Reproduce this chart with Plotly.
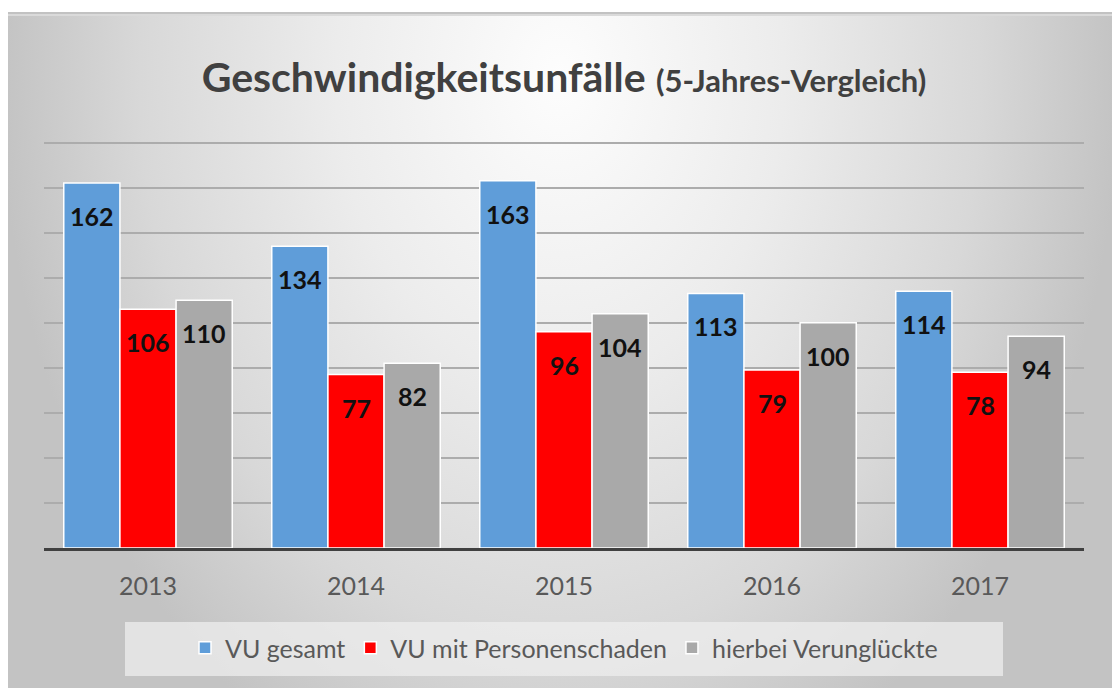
import base64
import plotly.graph_objects as go

# ---------------- data ----------------
years = ["2013", "2014", "2015", "2016", "2017"]
vu_gesamt = [162, 134, 163, 113, 114]
vu_personenschaden = [106, 77, 96, 79, 78]
verunglueckte = [110, 82, 104, 100, 94]
series_names = ["VU gesamt", "VU mit Personenschaden", "hierbei Verunglückte"]
title_main = "Geschwindigkeitsunfälle"
title_sub = "(5-Jahres-Vergleich)"

# ---------------- layout constants ----------------
W, H = 1112, 688
ML, MR, MT, MB = 44, 28, 138, 140
plot_w = W - ML - MR
plot_h = H - MT - MB
Y_MAX = 182
BARGAP = 0.19
FONT = "Lato, 'Open Sans', sans-serif"
colors = ["#5F9DD9", "#FF0000", "#A9A9A9"]

xpos = list(range(len(years)))  # category slots for the years


def px_x(px):
    return (px - ML) / plot_w


def px_y(py):
    return (H - MB - py) / plot_h


# radial background gradient as an SVG image
panel_x0, panel_y0 = 8, 12
pw, ph = W - panel_x0, H - panel_y0
cx, cy = pw / 2, 65
svg = f'''<svg xmlns="http://www.w3.org/2000/svg" width="{pw}" height="{ph}" viewBox="0 0 {pw} {ph}" preserveAspectRatio="none">
<defs><radialGradient id="g" gradientUnits="userSpaceOnUse" cx="{cx}" cy="{cy}" r="560"
gradientTransform="translate({cx},{cy}) scale(1,1.35) translate({-cx},{-cy})">
<stop offset="0" stop-color="#fdfdfd"/><stop offset="0.4" stop-color="#ececec"/>
<stop offset="0.75" stop-color="#d8d8d8"/><stop offset="1" stop-color="#c3c3c3"/>
</radialGradient></defs>
<rect x="0" y="0" width="{pw}" height="{ph}" fill="url(#g)"/>
<rect x="0" y="0" width="{pw}" height="2" fill="#c2c2c2"/>
<rect x="0" y="2" width="{pw}" height="2" fill="#dadada"/>
</svg>'''
svg_uri = "data:image/svg+xml;base64," + base64.b64encode(svg.encode()).decode()

fig = go.Figure()
series = [vu_gesamt, vu_personenschaden, verunglueckte]
for name, vals, col in zip(series_names, series, colors):
    fig.add_trace(go.Bar(
        x=xpos, y=vals, name=name,
        customdata=years,
        marker=dict(color=col, line=dict(color="white", width=1.5)),
        hovertemplate="%{customdata}: %{y}<extra>" + name + "</extra>",
    ))

# value labels (placed inside the bar top)
cat_w = plot_w / len(years)
bar_w = cat_w * (1 - BARGAP) / len(series)
annotations = []
for i, vals in enumerate(series):
    for xp, v in zip(xpos, vals):
        annotations.append(dict(
            x=xp, y=v, xref="x", yref="y", text=f"<b>{v}</b>", showarrow=False,
            xshift=(i - 1) * bar_w, yshift=-33, yanchor="middle",
            font=dict(family=FONT, size=25, color="#111111"),
        ))

fig.update_layout(
    width=W, height=H,
    margin=dict(l=ML, r=MR, t=MT, b=MB, pad=0),
    paper_bgcolor="white",
    plot_bgcolor="rgba(0,0,0,0)",
    barmode="group", bargap=BARGAP, bargroupgap=0,
    title=dict(
        text=f"<b>{title_main}</b> <span style='font-size:31px'><b>{title_sub}</b></span>",
        x=0.5, xref="paper", xanchor="center",
        y=1 - 78 / H, yanchor="middle",
        font=dict(family=FONT, size=41, color="#404040"),
    ),
    xaxis=dict(
        range=[-0.5, len(years) - 0.5], autorange=False,
        tickmode="array", tickvals=xpos, ticktext=years,
        showline=True, linecolor="#404040", linewidth=3,
        showgrid=False, zeroline=False, ticks="", ticklabelstandoff=14,
        tickfont=dict(family=FONT, size=25, color="#595959"),
    ),
    yaxis=dict(
        range=[0, Y_MAX], autorange=False, dtick=20, showticklabels=False,
        showgrid=True, gridcolor="#acacac", gridwidth=2,
        zeroline=False, showline=False, ticks="",
    ),
    showlegend=True,
    legend=dict(
        orientation="h", x=0.5, xanchor="center", y=px_y(648), yanchor="middle",
        bgcolor="rgba(0,0,0,0)",
        font=dict(family=FONT, size=25, color="#595959"),
        itemwidth=30, traceorder="normal",
    ),
    images=[dict(
        source=svg_uri, xref="paper", yref="paper",
        x=px_x(panel_x0), y=px_y(panel_y0),
        sizex=pw / plot_w, sizey=ph / plot_h,
        xanchor="left", yanchor="top", sizing="stretch", layer="below",
    )],
    shapes=[dict(
        type="rect", xref="paper", yref="paper", layer="below",
        x0=px_x(125), x1=px_x(1003), y0=px_y(676), y1=px_y(622),
        fillcolor="rgba(238,238,238,0.75)", line=dict(width=0),
    )],
    annotations=annotations,
)

fig.write_html(
    "out.html",
    config={"displayModeBar": False},
    post_script="document.body.style.margin='0';document.body.style.overflow='hidden';",
)
